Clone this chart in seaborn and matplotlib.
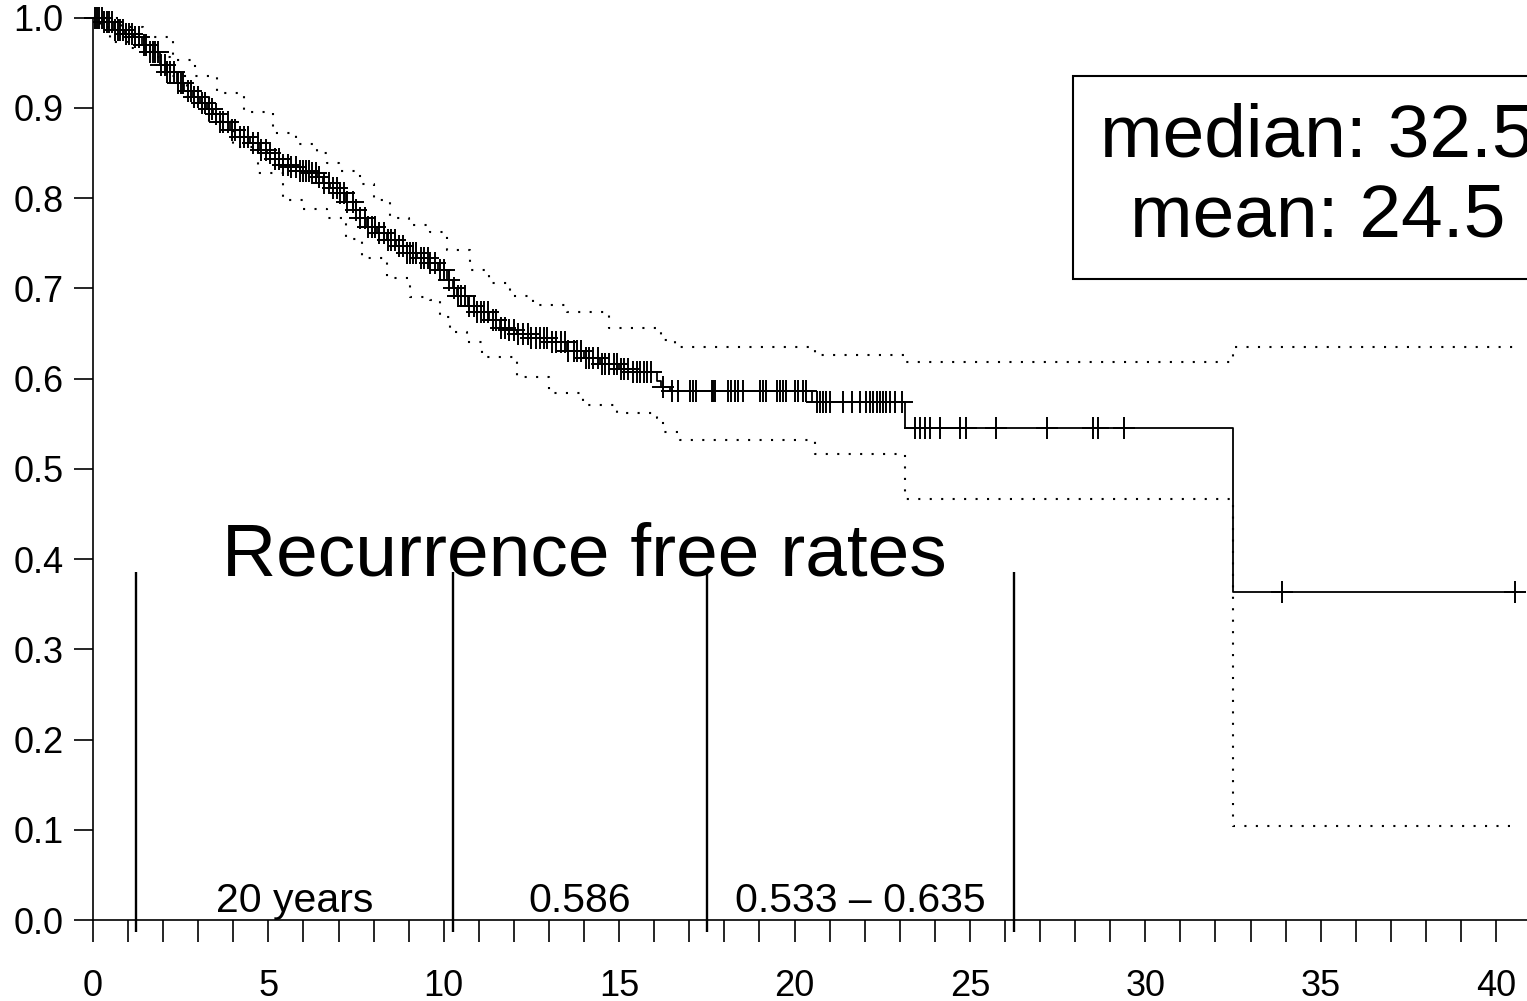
import numpy as np
import matplotlib
matplotlib.use('Agg')
import matplotlib.pyplot as plt
from matplotlib.ticker import MultipleLocator, FixedLocator, FormatStrFormatter
import seaborn as sns

sns.set_style('ticks')
plt.rcParams['font.family'] = ['Liberation Sans', 'DejaVu Sans']
plt.rcParams['text.color'] = 'black'
plt.rcParams['xtick.color'] = 'black'
plt.rcParams['ytick.color'] = 'black'
plt.rcParams['axes.edgecolor'] = 'black'

# Kaplan-Meier estimate (step values)
km_time = [0, 0.3, 0.6, 0.9, 1.14, 1.4, 1.62, 1.91, 2.1, 2.39, 2.6, 2.85, 3.05, 3.25,
           3.42, 3.62, 3.9, 4.19, 4.48, 4.76, 4.96, 5.2, 5.42, 5.62, 5.9, 6.19, 6.4,
           6.56, 6.75, 6.96, 7.2, 7.41, 7.6, 7.81, 8.1, 8.38, 8.65, 8.95, 9.25, 9.6,
           9.85, 10.09, 10.25, 10.38, 10.7, 10.95, 11.3, 11.6, 11.8, 12.1, 12.5, 13.1,
           13.5, 14.0, 14.45, 15.0, 15.4, 16.08, 16.2, 16.45, 20.5, 23.16, 32.5, 40.6]
km_surv = [1.0, 0.995, 0.986, 0.982, 0.978, 0.97, 0.962, 0.947, 0.94, 0.927, 0.919,
           0.912, 0.905, 0.899, 0.893, 0.884, 0.875, 0.868, 0.861, 0.853, 0.85, 0.843,
           0.837, 0.834, 0.83, 0.828, 0.823, 0.817, 0.811, 0.806, 0.796, 0.787, 0.778,
           0.768, 0.761, 0.754, 0.747, 0.739, 0.734, 0.728, 0.72, 0.709, 0.70, 0.691,
           0.68, 0.674, 0.665, 0.656, 0.654, 0.649, 0.645, 0.64, 0.631, 0.623, 0.616,
           0.611, 0.607, 0.597, 0.591, 0.586, 0.574, 0.545, 0.363, 0.363]

# confidence band
upper_time = [0, 0.3, 0.8, 1.43, 2.28, 2.9, 3.53, 4.3, 5.13, 5.8, 6.39, 6.67, 7.0, 7.61,
              8.0, 8.47, 9.0, 9.6, 10.09, 10.75, 11.3, 11.9, 12.54, 13.5, 14.7, 16.07,
              16.2, 16.6, 20.58, 23.16, 32.5, 40.54]
upper_val = [1.0, 1.0, 0.99, 0.978, 0.953, 0.935, 0.916, 0.895, 0.872, 0.86, 0.85, 0.839,
             0.83, 0.815, 0.798, 0.778, 0.77, 0.762, 0.742, 0.72, 0.706, 0.691, 0.682,
             0.674, 0.656, 0.652, 0.643, 0.635, 0.626, 0.618, 0.635, 0.635]
lower_time = [0, 0.2, 0.48, 1.0, 1.71, 2.2, 2.68, 3.3, 3.99, 4.7, 5.42, 6.0, 6.67, 7.2,
              7.67, 8.38, 9.04, 9.6, 9.9, 10.18, 10.66, 11.1, 12.1, 13.0, 13.97, 14.94,
              16.07, 16.25, 16.73, 20.58, 23.16, 32.5, 40.54]
lower_val = [1.0, 0.99, 0.973, 0.966, 0.956, 0.935, 0.912, 0.885, 0.857, 0.828, 0.798,
             0.788, 0.778, 0.755, 0.734, 0.711, 0.69, 0.687, 0.668, 0.652, 0.64, 0.624,
             0.602, 0.584, 0.571, 0.562, 0.556, 0.541, 0.532, 0.516, 0.467, 0.104, 0.104]

# censored observations
censor_time = [0.05, 0.12, 0.18, 0.25, 0.31, 0.4, 0.47, 0.55, 0.62, 0.7, 0.78, 0.85, 0.95,
               1.02, 1.1, 1.2, 1.32, 1.45, 1.5, 1.62, 1.7, 1.78, 1.85, 1.95, 2.05, 2.12,
               2.2, 2.3, 2.42, 2.5, 2.58, 2.7, 2.8, 2.88, 3.0, 3.1, 3.18, 3.3, 3.4, 3.5,
               3.62, 3.7, 3.85, 3.95, 4.05, 4.2, 4.3, 4.42, 4.55, 4.7, 4.8, 4.92, 5.05,
               5.2, 5.3, 5.42, 5.55, 5.65, 5.78, 5.9, 6.0, 6.08, 6.15, 6.25, 6.35, 6.45,
               6.6, 6.72, 6.85, 6.95, 7.05, 7.15, 7.25, 7.4, 7.5, 7.62, 7.75, 7.85, 7.95,
               8.05, 8.15, 8.3, 8.4, 8.5, 8.6, 8.72, 8.85, 8.95, 9.05, 9.12, 9.2, 9.35,
               9.45, 9.55, 9.62, 9.75, 9.9, 10.0, 10.15, 10.3, 10.42, 10.5, 10.6, 10.72,
               10.85, 10.95, 11.05, 11.15, 11.25, 11.4, 11.5, 11.62, 11.75, 11.85, 12.0,
               12.12, 12.25, 12.4, 12.5, 12.62, 12.75, 12.85, 12.95, 13.1, 13.2, 13.35,
               13.45, 13.55, 13.7, 13.8, 13.92, 14.05, 14.15, 14.25, 14.4, 14.5, 14.6,
               14.72, 14.85, 14.95, 15.05, 15.15, 15.25, 15.4, 15.5, 15.6, 15.7, 15.8,
               15.9, 16.26, 16.5, 16.69, 17.02, 17.1, 17.2, 17.64, 17.68, 17.73, 18.11,
               18.2, 18.3, 18.4, 18.54, 19.01, 19.1, 19.2, 19.49, 19.58, 19.68, 19.77,
               20.01, 20.1, 20.25, 20.34, 20.63, 20.72, 20.82, 20.91, 21.0, 21.39, 21.63,
               21.86, 22.05, 22.15, 22.24, 22.34, 22.43, 22.53, 22.62, 22.72, 22.86,
               23.05, 23.43, 23.57, 23.72, 23.86, 24.14, 24.71, 24.89, 25.74, 27.2, 28.5,
               28.65, 29.4, 33.9, 40.54]

# summary table
table_breaks = [1.23, 10.26, 17.5, 26.25]
table_labels = ['20 years', '0.586', '0.533 \u2013 0.635']
median_time = 32.5
mean_time = 24.5

km_time = np.array(km_time)
km_surv = np.array(km_surv)
idx = np.searchsorted(km_time, censor_time, side='right') - 1
censor_surv = km_surv[idx]

fig = plt.figure(figsize=(15.27, 10.01), dpi=100)
ax = fig.add_axes([0, 0, 1, 1])

dots = (0, (1, 4.5))
sns.lineplot(x=km_time, y=km_surv, drawstyle='steps-post', color='black',
             linewidth=1.3, estimator=None, sort=False, ax=ax)
sns.lineplot(x=upper_time, y=upper_val, drawstyle='steps-post', color='black',
             linewidth=1.5, linestyle=dots, estimator=None, sort=False, ax=ax)
sns.lineplot(x=lower_time, y=lower_val, drawstyle='steps-post', color='black',
             linewidth=1.5, linestyle=dots, estimator=None, sort=False, ax=ax)
sns.scatterplot(x=censor_time, y=censor_surv, marker='+', s=240, color='black',
                linewidth=1.4, ax=ax, zorder=3)

# table with the 20 year rate
ax.vlines(table_breaks, -0.013, 0.386, color='black', linewidth=1.7)
for i, lab in enumerate(table_labels):
    xc = (table_breaks[i] + table_breaks[i + 1]) / 2
    ax.text(xc, 0.009, lab, ha='center', va='baseline', fontsize=29.5)
ax.text(14.0, 0.382, 'Recurrence free rates', ha='center', va='baseline', fontsize=54)

ax.text(34.9, 0.823, 'median: %.1f\nmean: %.1f' % (median_time, mean_time),
        ha='center', va='center', fontsize=54, linespacing=1.2,
        bbox=dict(boxstyle='square,pad=0.36', fc='white', ec='black', lw=1.5))

ax.set_xlim(-2.65, 40.88)
ax.set_ylim(-0.0897, 1.0194)
sns.despine(ax=ax)
ax.spines['left'].set_position(('data', 0))
ax.spines['bottom'].set_position(('data', 0))
ax.spines['left'].set_bounds(0, 1)
ax.spines['bottom'].set_bounds(0, 40.88)
for s in ['left', 'bottom']:
    ax.spines[s].set_linewidth(1.2)

ax.xaxis.set_major_locator(MultipleLocator(5))
ax.xaxis.set_minor_locator(FixedLocator(np.arange(0, 41)))
ax.yaxis.set_major_locator(MultipleLocator(0.1))
ax.yaxis.set_major_formatter(FormatStrFormatter('%.1f'))
ax.tick_params(axis='x', which='both', direction='out', length=16, width=1.2,
               pad=19, labelsize=26)
ax.tick_params(axis='y', direction='out', length=14, width=1.2, pad=7, labelsize=26)
ax.set_xlabel('')
ax.set_ylabel('')

fig.savefig('out.png', dpi=100)
